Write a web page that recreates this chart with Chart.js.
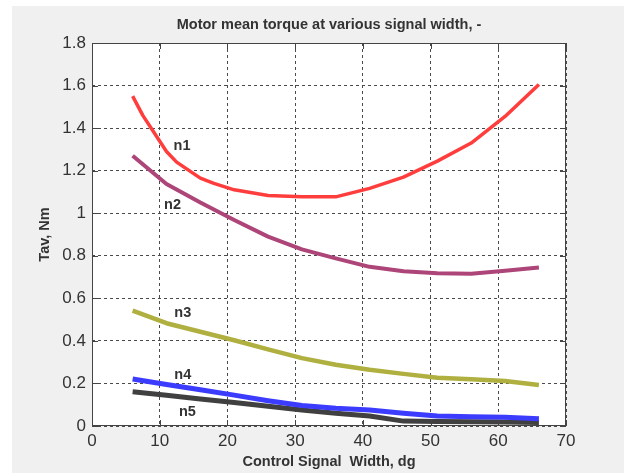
<!DOCTYPE html>
<html>
<head>
<meta charset="utf-8">
<title>Motor mean torque</title>
<script src="https://cdn.jsdelivr.net/npm/chart.js@4.4.1/dist/chart.umd.min.js"></script>
<style>
  html, body { margin: 0; padding: 0; background: #fff; }
  canvas { display: block; }
</style>
</head>
<body>
<canvas id="torque" width="624" height="473"></canvas>
<script>
// Control signal width, dg (shared by n2..n5)
const widthDg = [6, 11, 16, 21, 26, 31, 36, 41, 46, 51, 56, 61, 66];
// n1 was sampled more finely at the start of the sweep
const n1Width = [6, 7.5, 11, 12.5, 16, 18, 21, 26, 31, 36, 41, 46, 51, 56, 61, 66];
// Mean torque Tav, Nm
const n1Torque = [1.55, 1.46, 1.29, 1.24, 1.165, 1.14, 1.11, 1.083, 1.077, 1.077, 1.117, 1.17, 1.245, 1.33, 1.455, 1.605];
const n2Torque = [1.27, 1.137, 1.05, 0.968, 0.89, 0.83, 0.788, 0.748, 0.727, 0.718, 0.716, 0.73, 0.745];
const n3Torque = [0.542, 0.483, 0.443, 0.403, 0.36, 0.319, 0.288, 0.264, 0.245, 0.227, 0.22, 0.211, 0.193];
const n4Torque = [0.221, 0.195, 0.17, 0.145, 0.119, 0.096, 0.083, 0.075, 0.06, 0.047, 0.044, 0.041, 0.034];
const n5Torque = [0.161, 0.144, 0.127, 0.11, 0.093, 0.075, 0.06, 0.047, 0.023, 0.021, 0.02, 0.019, 0.016];

const seriesNames = ['n1', 'n2', 'n3', 'n4', 'n5'];
const xTicks = [0, 10, 20, 30, 40, 50, 60, 70];
const yTicks = [0, 0.2, 0.4, 0.6, 0.8, 1, 1.2, 1.4, 1.6, 1.8];

const titleText = 'Motor mean torque at various signal width, -';
const xTitle = 'Control Signal  Width, dg';
const yTitle = 'Tav, Nm';

// Where each curve's name is written (in axis units)
const nameSpots = [
  { x: 13.3, y: 1.316 },
  { x: 11.9, y: 1.039 },
  { x: 13.4, y: 0.532 },
  { x: 13.4, y: 0.24 },
  { x: 14.1, y: 0.068 }
];

const lineColors = ['#ff3d3d', '#ad4579', '#b0b040', '#3c3cff', '#404040'];
const lineWidths = [3.5, 4, 4.5, 5, 5];

const FONT = '"Liberation Sans", Arial, Helvetica, sans-serif';
const INK = '#333333';

const pts = (xs, ys) => xs.map((x, i) => ({ x: x, y: ys[i] }));
const seriesData = [
  pts(n1Width, n1Torque),
  pts(widthDg, n2Torque),
  pts(widthDg, n3Torque),
  pts(widthDg, n4Torque),
  pts(widthDg, n5Torque)
];

// Figure background, white plot box, solid frame, inward ticks, title and curve names
const figureDecor = {
  id: 'figureDecor',
  beforeDraw(chart) {
    const { ctx, chartArea: a } = chart;
    ctx.save();
    ctx.fillStyle = '#ffffff';
    ctx.fillRect(0, 0, chart.width, chart.height);
    ctx.fillStyle = '#f0f0f0';
    ctx.fillRect(12, 6, chart.width - 12, chart.height - 6);
    ctx.fillStyle = '#ffffff';
    ctx.fillRect(a.left, a.top, a.right - a.left, a.bottom - a.top);
    ctx.restore();
  },
  afterDraw(chart) {
    const { ctx, chartArea: a, scales } = chart;
    const sx = scales.x, sy = scales.y;
    ctx.save();
    ctx.strokeStyle = '#444444';
    ctx.lineWidth = 1;
    ctx.setLineDash([]);
    ctx.strokeRect(a.left + 0.5, a.top + 0.5, a.right - a.left - 1, a.bottom - a.top - 1);
    const tl = 6;
    ctx.beginPath();
    sx.ticks.forEach(t => {
      const px = Math.round(sx.getPixelForValue(t.value)) + 0.5;
      ctx.moveTo(px, a.bottom); ctx.lineTo(px, a.bottom - tl);
      ctx.moveTo(px, a.top); ctx.lineTo(px, a.top + tl);
    });
    sy.ticks.forEach(t => {
      const py = Math.round(sy.getPixelForValue(t.value)) + 0.5;
      ctx.moveTo(a.left, py); ctx.lineTo(a.left + tl, py);
      ctx.moveTo(a.right, py); ctx.lineTo(a.right - tl, py);
    });
    ctx.stroke();

    ctx.fillStyle = INK;
    ctx.textAlign = 'center';
    ctx.textBaseline = 'middle';
    ctx.font = 'bold 14.5px ' + FONT;
    ctx.fillText(titleText, (a.left + a.right) / 2, 25);

    seriesNames.forEach((name, i) => {
      const spot = nameSpots[i];
      ctx.fillText(name, sx.getPixelForValue(spot.x), sy.getPixelForValue(spot.y));
    });
    ctx.restore();
  }
};

new Chart(document.getElementById('torque'), {
  type: 'line',
  data: {
    datasets: seriesNames.map((name, i) => ({
      label: name,
      data: seriesData[i],
      borderColor: lineColors[i],
      backgroundColor: lineColors[i],
      borderWidth: lineWidths[i],
      pointRadius: 0,
      tension: 0,
      fill: false,
      borderCapStyle: 'butt',
      borderJoinStyle: 'round'
    }))
  },
  options: {
    responsive: false,
    animation: false,
    events: [],
    layout: { padding: { left: 12, right: 58, top: 43, bottom: 0 } },
    plugins: {
      legend: { display: false },
      title: { display: false },
      tooltip: { enabled: false }
    },
    scales: {
      x: {
        type: 'linear',
        min: 0,
        max: 70,
        afterBuildTicks: s => { s.ticks = xTicks.map(v => ({ value: v })); },
        afterFit: s => { s.height = 47; },
        ticks: {
          color: INK,
          font: { family: FONT, size: 17 },
          padding: 5,
          maxRotation: 0,
          autoSkip: false,
          callback: v => String(v)
        },
        grid: { color: '#4a4a4a', lineWidth: 1, drawTicks: false },
        border: { display: false, dash: [3, 3] },
        title: {
          display: true,
          text: xTitle,
          color: INK,
          font: { family: FONT, size: 14.5, weight: 'bold' },
          padding: { top: 0, bottom: 2.3 }
        }
      },
      y: {
        type: 'linear',
        min: 0,
        max: 1.8,
        afterBuildTicks: s => { s.ticks = yTicks.map(v => ({ value: v })); },
        afterFit: s => { s.width = 80; },
        ticks: {
          color: INK,
          font: { family: FONT, size: 17 },
          padding: 6,
          autoSkip: false,
          callback: v => String(v)
        },
        grid: { color: '#4a4a4a', lineWidth: 1, drawTicks: false },
        border: { display: false, dash: [3, 3] },
        title: {
          display: true,
          text: yTitle,
          color: INK,
          font: { family: FONT, size: 14.5, weight: 'bold' },
          padding: { top: 24.3, bottom: 0 }
        }
      }
    }
  },
  plugins: [figureDecor]
});
</script>
</body>
</html>
